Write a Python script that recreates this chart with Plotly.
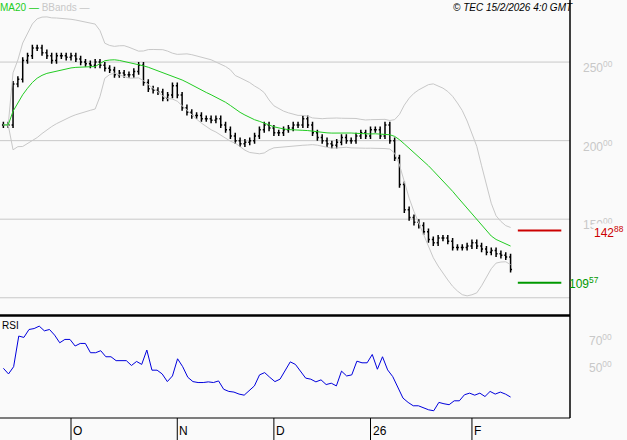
import plotly.graph_objects as go
import pandas as pd
import numpy as np

close = [210,210,236,239,251,254,259,259,256,254,
         251,254,254,253,254,252,250,249,248,250,
         248,246,245,242,243,242,242,244,248,237,
         233,232,231,227,229,235,229,221,218,216,
         216,214,214,213,214,210,207,203,200,198,
         199,200,203,207,210,208,205,205,207,208,
         210,210,214,210,205,202,200,198,197,199,
         202,200,200,203,205,203,207,207,203,210,
         200,189,172,156,151,148,146,142,137,135,
         138,138,136,132,132,132,133,135,133,131,
         129,130,128,127,126,118]
rsi = [49,44.8,50.2,73,72,77.9,78.6,80.4,76.9,77.9,73.7,68,70.5,70.5,65.6,67.5,67.5,60.6,60.6,62.1,
       57.6,57.6,54.7,54.7,54.7,51.1,54.1,51.9,62.6,47.6,47.6,44.8,39.1,43.3,56.1,50.2,42.3,39.1,38.4,38.4,
       38.9,38.4,39.6,33.4,31.8,31.3,29.8,29,32.5,35.9,44.1,45.8,42.3,39.1,40.9,47.6,53.8,51.9,46.9,41.7,
       40.9,38.9,40.4,36.9,37.9,35.9,46.9,43.3,44.1,54.3,53.1,53.1,59.3,48.3,57.6,47.8,42.8,35.4,26.8,23.6,
       21.1,21.1,19.4,18.1,17.4,23.6,22.6,21.9,24.8,24.8,29.3,30.5,29,30.5,28,31.8,29.8,31.3,29.8,27.6]
tick_index = [14, 36, 56, 76, 97]
tick_text = ["O", "N", "D", "26", "F"]
price_ticks = [150, 200, 250]
rsi_ticks = [50, 70]
resistance = 142.88
support = 109.57

n = len(close)
x = list(range(n))
s = pd.Series(close, dtype=float)
opn = [close[0]] + close[:-1]
high = [max(o, c) + 2 for o, c in zip(opn, close)]
low = [min(o, c) - 2 for o, c in zip(opn, close)]
ma = s.rolling(20, min_periods=1).mean()
sd = s.rolling(20, min_periods=1).std(ddof=0)
up, dn = ma + 2 * sd, ma - 2 * sd
rsi_x = np.linspace(0, n - 1, len(rsi))

FONT = "Liberation Sans"
fig = go.Figure()
band = dict(color="#c8c8c8", width=1)
fig.add_trace(go.Scatter(x=x, y=up, mode="lines", line=band, yaxis="y"))
fig.add_trace(go.Scatter(x=x, y=dn, mode="lines", line=band, yaxis="y"))
fig.add_trace(go.Scatter(x=x, y=ma, mode="lines", line=dict(color="#22cc22", width=1), yaxis="y"))
fig.add_trace(go.Ohlc(x=x, open=opn, high=high, low=low, close=close, tickwidth=0.3,
                      increasing=dict(line=dict(color="black", width=1.5)),
                      decreasing=dict(line=dict(color="black", width=1.5)), yaxis="y"))
fig.add_trace(go.Scatter(x=rsi_x, y=rsi, mode="lines", line=dict(color="#0000dd", width=1), yaxis="y2"))
fig.add_trace(go.Scatter(x=[n + 0.5, n + 9.5], y=[resistance, resistance], mode="lines",
                         line=dict(color="#cc0000", width=2), yaxis="y"))
fig.add_trace(go.Scatter(x=[n + 0.5, n + 9.5], y=[support, support], mode="lines",
                         line=dict(color="#009900", width=2), yaxis="y"))

ann = []
for t in price_ticks:
    ann.append(dict(x=1.02, xref="paper", y=t, yref="y", text=f"{t}<sup>00</sup>", showarrow=False,
                    xanchor="left", yshift=-5, font=dict(color="#c8c8c8", size=12, family=FONT)))
for t in rsi_ticks:
    ann.append(dict(x=1.03, xref="paper", y=t, yref="y2", text=f"{t}<sup>00</sup>", showarrow=False,
                    xanchor="left", font=dict(color="#c8c8c8", size=12, family=FONT)))
ann.append(dict(x=1.04, xref="paper", y=resistance, yref="y", text="142<sup>88</sup>", showarrow=False,
                xanchor="left", yshift=-2, bgcolor="#fafafa", borderpad=0,
                font=dict(color="#cc0000", size=12, family=FONT)))
ann.append(dict(x=n + 10.6, xref="x", y=support, yref="y", text="109<sup>57</sup>", showarrow=False,
                xanchor="left", font=dict(color="#009900", size=12, family=FONT)))
for ti, tt in zip(tick_index, tick_text):
    ann.append(dict(x=ti, xref="x", y=0, yref="paper", text=tt, showarrow=False, xanchor="left",
                    yanchor="bottom", xshift=0, yshift=0, font=dict(color="black", size=12, family=FONT)))
ann.append(dict(x=0, xref="paper", y=1, yref="paper", text="MA20 — <span style='color:#c8c8c8'>BBands —</span>",
                showarrow=False, xanchor="left", yanchor="top", xshift=-2, font=dict(color="#22cc22", size=10, family=FONT)))
ann.append(dict(x=1, xref="paper", y=1, yref="paper", text="<i>© TEC 15/2/2026 4:0 GMT</i>", showarrow=False,
                xanchor="right", yanchor="top", xshift=5, font=dict(color="black", size=10, family=FONT)))
ann.append(dict(x=0, xref="paper", y=0.277, yref="paper", text="RSI", showarrow=False, xanchor="left",
                yanchor="top", font=dict(color="black", size=10, family=FONT)))

shapes = [dict(type="line", xref="paper", yref="paper", x0=1, x1=1, y0=0.05, y1=1, line=dict(color="black", width=1.5)),
          dict(type="line", xref="paper", yref="paper", x0=0, x1=1, y0=0.283, y1=0.283, line=dict(color="black", width=2.5)),
          dict(type="line", xref="paper", yref="paper", x0=0, x1=1, y0=0.05, y1=0.05, line=dict(color="black", width=1))]
for ti in tick_index:
    shapes.append(dict(type="line", xref="x", yref="paper", x0=ti, x1=ti, y0=0, y1=0.05, line=dict(color="black", width=1)))
for t in price_ticks + [100]:
    shapes.append(dict(type="line", xref="paper", yref="y", x0=0, x1=1, y0=t, y1=t, line=dict(color="#c8c8c8", width=1), layer="below"))

fig.update_layout(
    width=627, height=440, margin=dict(l=0, r=57, t=0, b=0), showlegend=False,
    paper_bgcolor="#fafafa", plot_bgcolor="#fafafa",
    xaxis=dict(range=[-0.7, 117.3], showgrid=False, showticklabels=False, zeroline=False, rangeslider=dict(visible=False)),
    yaxis=dict(domain=[0.284, 1], range=[89, 289.5], showgrid=False, showticklabels=False, zeroline=False),
    yaxis2=dict(domain=[0.05, 0.282], range=[12, 88], showgrid=False, showticklabels=False, zeroline=False),
    annotations=ann, shapes=shapes,
)
fig.write_html("out.html", config={"displayModeBar": False})
with open("out.html", encoding="utf-8") as f:
    html = f.read()
html = html.replace("<head>", "<head><style>html,body{margin:0;padding:0;overflow:hidden;background:#fafafa}</style>", 1)
with open("out.html", "w", encoding="utf-8") as f:
    f.write(html)
